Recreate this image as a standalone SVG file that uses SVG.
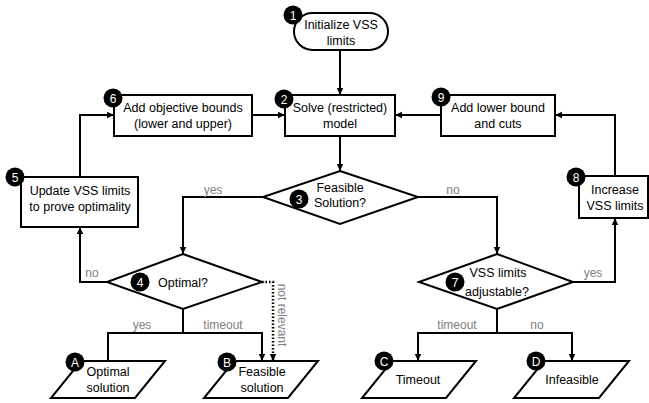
<svg xmlns="http://www.w3.org/2000/svg" width="649" height="403" viewBox="0 0 649 403">
<style>
.s{fill:#fff;stroke:#000;stroke-width:2}
.t{font-family:"Liberation Sans",Arial,sans-serif;font-size:12.5px;fill:#000;text-anchor:middle}
.l{font-family:"Liberation Sans",Arial,sans-serif;font-size:12px;fill:#808080;text-anchor:middle}
.b{fill:#000}
.bt{font-family:"Liberation Sans",Arial,sans-serif;font-size:12px;fill:#fff;text-anchor:middle}
.c{fill:none;stroke:#000;stroke-width:2}
.d{fill:none;stroke:#000;stroke-width:2.5;stroke-dasharray:1.5 2}
</style>
<defs>
<marker id="a" markerUnits="userSpaceOnUse" markerWidth="8" markerHeight="8" refX="7" refY="4" orient="auto"><path d="M0,0.8 L7,4 L0,7.2 Z" fill="#000"/></marker>
</defs>
<rect width="649" height="403" fill="#fff"/>
<g id="connectors">
<path class="c" d="M340,50 V95" marker-end="url(#a)"/>
<path class="c" d="M340,135 V171" marker-end="url(#a)"/>
<path class="c" d="M263,197 H183 V254" marker-end="url(#a)"/>
<path class="c" d="M418,197 H497 V254" marker-end="url(#a)"/>
<path class="c" d="M107,282 H80 V227" marker-end="url(#a)"/>
<path class="c" d="M80,177 V115 H114" marker-end="url(#a)"/>
<path class="c" d="M252,115 H285" marker-end="url(#a)"/>
<path class="c" d="M441,115 H395" marker-end="url(#a)"/>
<path class="c" d="M615,176 V115 H555" marker-end="url(#a)"/>
<path class="c" d="M573,282 H615 V218" marker-end="url(#a)"/>
<path class="c" d="M183,309 V333"/>
<path class="c" d="M108,361 V333 H262 V361" marker-end="url(#a)"/>
<path class="d" d="M262,282 H273 V361" marker-end="url(#a)"/>
<path class="c" d="M497,309 V333"/>
<path class="c" d="M497,333 H418 V361" marker-end="url(#a)"/>
<path class="c" d="M497,333 H572 V361" marker-end="url(#a)"/>
<text class="l" x="213" y="194">yes</text>
<text class="l" x="453" y="194">no</text>
<text class="l" x="92" y="277">no</text>
<text class="l" x="593" y="277">yes</text>
<text class="l" x="142" y="329">yes</text>
<text class="l" x="223" y="329">timeout</text>
<text class="l" x="457" y="329">timeout</text>
<text class="l" x="537" y="329">no</text>
<text class="l" transform="translate(278,315) rotate(90)">not relevant</text>
</g>
<g id="n1">
<rect class="s" x="294" y="13" width="94" height="37" rx="18.5"/>
<text class="t" x="341" y="29">Initialize VSS</text>
<text class="t" x="341" y="45">limits</text>
<circle class="b" cx="293" cy="15" r="9.5"/><text class="bt" x="293" y="19.5">1</text>
</g>
<g id="n2">
<rect class="s" x="285" y="95" width="110" height="41"/>
<text class="t" x="340" y="112">Solve (restricted)</text>
<text class="t" x="340" y="128">model</text>
<circle class="b" cx="284" cy="99" r="9.5"/><text class="bt" x="284" y="103.5">2</text>
</g>
<g id="n6">
<rect class="s" x="114" y="95" width="138" height="41"/>
<text class="t" x="183" y="112">Add objective bounds</text>
<text class="t" x="183" y="128">(lower and upper)</text>
<circle class="b" cx="113" cy="98" r="9.5"/><text class="bt" x="113" y="102.5">6</text>
</g>
<g id="n9">
<rect class="s" x="441" y="95" width="114" height="41"/>
<text class="t" x="498" y="112">Add lower bound</text>
<text class="t" x="498" y="128">and cuts</text>
<circle class="b" cx="441" cy="97" r="9.5"/><text class="bt" x="441" y="101.5">9</text>
</g>
<g id="n5">
<rect class="s" x="21" y="177" width="117" height="50"/>
<text class="t" x="80" y="195">Update VSS limits</text>
<text class="t" x="80" y="211">to prove optimality</text>
<circle class="b" cx="15" cy="177" r="9.5"/><text class="bt" x="15" y="181.5">5</text>
</g>
<g id="n8">
<rect class="s" x="579" y="176" width="69" height="42"/>
<text class="t" x="615" y="194">Increase</text>
<text class="t" x="615" y="210">VSS limits</text>
<circle class="b" cx="576" cy="177" r="9.5"/><text class="bt" x="576" y="181.5">8</text>
</g>
<g id="n3">
<polygon class="s" points="340,171 418,197 340,224 263,197"/>
<text class="t" x="340" y="192">Feasible</text>
<text class="t" x="340" y="207">Solution?</text>
<circle class="b" cx="299" cy="199" r="9.5"/><text class="bt" x="299" y="203.5">3</text>
</g>
<g id="n4">
<polygon class="s" points="183,254 262,282 183,309 107,282"/>
<text class="t" x="183" y="286.5">Optimal?</text>
<circle class="b" cx="140" cy="282" r="9.5"/><text class="bt" x="140" y="286.5">4</text>
</g>
<g id="n7">
<polygon class="s" points="497,254 573,282 497,309 419,282"/>
<text class="t" x="498" y="277">VSS limits</text>
<text class="t" x="497" y="296">adjustable?</text>
<circle class="b" cx="455" cy="282" r="9.5"/><text class="bt" x="455" y="286.5">7</text>
</g>
<g id="nA">
<polygon class="s" points="81,361 165,361 135,398 51,398"/>
<text class="t" x="108" y="376">Optimal</text>
<text class="t" x="108" y="392">solution</text>
<circle class="b" cx="75" cy="362" r="9.5"/><text class="bt" x="75" y="366.5">A</text>
</g>
<g id="nB">
<polygon class="s" points="234,361 318,361 288,398 204,398"/>
<text class="t" x="262" y="376">Feasible</text>
<text class="t" x="262" y="392">solution</text>
<circle class="b" cx="227" cy="362" r="9.5"/><text class="bt" x="227" y="366.5">B</text>
</g>
<g id="nC">
<polygon class="s" points="392,361 476,361 446,398 362,398"/>
<text class="t" x="418" y="384">Timeout</text>
<circle class="b" cx="384" cy="361" r="9.5"/><text class="bt" x="384" y="365.5">C</text>
</g>
<g id="nD">
<polygon class="s" points="544,361 629,361 599,398 514,398"/>
<text class="t" x="572" y="384">Infeasible</text>
<circle class="b" cx="536" cy="361" r="9.5"/><text class="bt" x="536" y="365.5">D</text>
</g>
</svg>
